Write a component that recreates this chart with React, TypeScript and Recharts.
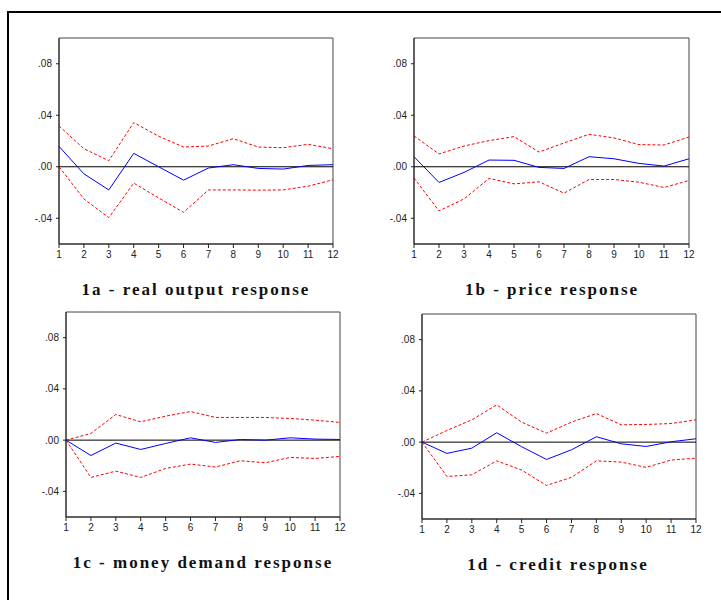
import React from 'react'
import { LineChart, Line, XAxis, YAxis, ReferenceLine, ReferenceArea } from 'recharts'

// Impulse responses, periods 1..12, with ± 2 S.E. bands
const periods = [1, 2, 3, 4, 5, 6, 7, 8, 9, 10, 11, 12]
const yTicks = [-0.04, 0, 0.04, 0.08]

const outputIrf = [0.0158, -0.0055, -0.018, 0.0104, 0.0, -0.0104, -0.001, 0.0016, -0.0013, -0.0018, 0.001, 0.0016]
const outputUpper = [0.0317, 0.014, 0.0047, 0.0343, 0.0237, 0.0153, 0.0161, 0.0218, 0.0153, 0.0148, 0.0174, 0.014]
const outputLower = [0.0, -0.025, -0.0395, -0.0127, -0.0242, -0.0354, -0.018, -0.018, -0.0182, -0.018, -0.0151, -0.0101]

const priceIrf = [0.0078, -0.0122, -0.0044, 0.0052, 0.005, -0.0005, -0.0013, 0.0078, 0.0062, 0.0026, 0.0005, 0.0062]
const priceUpper = [0.0239, 0.0099, 0.0161, 0.0203, 0.0234, 0.0114, 0.0185, 0.0252, 0.0224, 0.0172, 0.0169, 0.0231]
const priceLower = [-0.0088, -0.0343, -0.025, -0.0091, -0.0133, -0.0117, -0.0205, -0.0099, -0.0099, -0.012, -0.0161, -0.0107]

const moneyIrf = [0.0, -0.012, -0.0023, -0.0073, -0.0026, 0.0018, -0.0018, 0.0005, 0.0, 0.0018, 0.0008, 0.0005]
const moneyUpper = [0.0, 0.0052, 0.02, 0.0143, 0.0187, 0.0223, 0.0177, 0.0177, 0.0177, 0.0169, 0.0156, 0.0138]
const moneyLower = [0.0, -0.0291, -0.0242, -0.0291, -0.0221, -0.0187, -0.021, -0.0161, -0.0177, -0.0135, -0.0143, -0.0127]

const creditIrf = [0.0, -0.0088, -0.0047, 0.0073, -0.0036, -0.0135, -0.006, 0.0042, -0.0013, -0.0034, 0.0003, 0.0026]
const creditUpper = [0.0, 0.0091, 0.0174, 0.0291, 0.0156, 0.007, 0.0156, 0.0223, 0.0135, 0.0138, 0.0145, 0.0174]
const creditLower = [0.0, -0.0268, -0.0255, -0.0146, -0.0218, -0.0338, -0.0275, -0.0146, -0.0156, -0.0197, -0.014, -0.0125]

const AXIS_W = 40
const TOP_M = 5
const X_AXIS_H = 22

const tickStyle = { fontSize: 10, fill: '#222', fontFamily: 'Liberation Sans, Arial, sans-serif' }

const fmtTick = (v: number) => {
  if (v === 0) return '.00'
  const s = Math.abs(v).toFixed(2).replace(/^0/, '')
  return v < 0 ? '-' + s : s
}

interface PanelProps {
  left: number
  top: number
  plotW: number
  plotH: number
  irf: number[]
  upper: number[]
  lower: number[]
  title: string
  titleX: number
  titleY: number
}

function Panel({ left, top, plotW, plotH, irf, upper, lower, title, titleX, titleY }: PanelProps) {
  const data = periods.map((p, i) => ({ x: p, irf: irf[i], upper: upper[i], lower: lower[i] }))
  return (
    <>
      <div style={{ position: 'absolute', left: left - AXIS_W, top: top - TOP_M }}>
        <LineChart
          width={AXIS_W + plotW + 10}
          height={TOP_M + plotH + X_AXIS_H}
          data={data}
          margin={{ top: TOP_M, right: 10, bottom: 0, left: 0 }}
        >
          <XAxis
            dataKey="x"
            type="number"
            domain={[1, 12]}
            ticks={periods}
            interval={0}
            height={X_AXIS_H}
            tickSize={4}
            tickMargin={3}
            tick={tickStyle}
            stroke="#222"
          />
          <YAxis
            type="number"
            domain={[-0.06, 0.1]}
            ticks={yTicks}
            interval={0}
            width={AXIS_W}
            tickSize={3}
            tickMargin={4}
            tick={tickStyle}
            tickFormatter={fmtTick}
            stroke="#222"
          />
          <ReferenceArea x1={1} x2={12} y1={-0.06} y2={0.1} fill="none" stroke="#444" strokeWidth={1} />
          <ReferenceLine y={0} stroke="#000" strokeWidth={1} />
          <Line dataKey="upper" stroke="#ff0000" strokeWidth={1} strokeDasharray="3 2" dot={false} isAnimationActive={false} />
          <Line dataKey="lower" stroke="#ff0000" strokeWidth={1} strokeDasharray="3 2" dot={false} isAnimationActive={false} />
          <Line dataKey="irf" stroke="#0000ff" strokeWidth={1} dot={false} isAnimationActive={false} />
        </LineChart>
      </div>
      <div
        style={{
          position: 'absolute',
          left: titleX - 160,
          width: 320,
          top: titleY - 14,
          textAlign: 'center',
          fontFamily: 'Liberation Serif, Times New Roman, serif',
          fontWeight: 'bold',
          fontSize: 17,
          lineHeight: '17px',
          letterSpacing: 2,
          color: '#111',
          whiteSpace: 'nowrap',
        }}
      >
        {title}
      </div>
    </>
  )
}

export default function App() {
  return (
    <div style={{ position: 'absolute', left: 0, top: 0, width: 721, height: 600, overflow: 'hidden', background: '#fff' }}>
      <div
        style={{
          position: 'absolute',
          left: 7,
          top: 11,
          width: 800,
          height: 700,
          borderLeft: '2px solid #000',
          borderTop: '2px solid #000',
        }}
      />
      <Panel left={59} top={38} plotW={274} plotH={206} irf={outputIrf} upper={outputUpper} lower={outputLower}
        title="1a - real output response" titleX={196} titleY={295} />
      <Panel left={414} top={38} plotW={275} plotH={206} irf={priceIrf} upper={priceUpper} lower={priceLower}
        title="1b - price response" titleX={552} titleY={295} />
      <Panel left={66} top={312} plotW={274} plotH={205} irf={moneyIrf} upper={moneyUpper} lower={moneyLower}
        title="1c - money demand response" titleX={203} titleY={568} />
      <Panel left={422} top={314} plotW={274} plotH={205} irf={creditIrf} upper={creditUpper} lower={creditLower}
        title="1d - credit response" titleX={558} titleY={570} />
    </div>
  )
}
